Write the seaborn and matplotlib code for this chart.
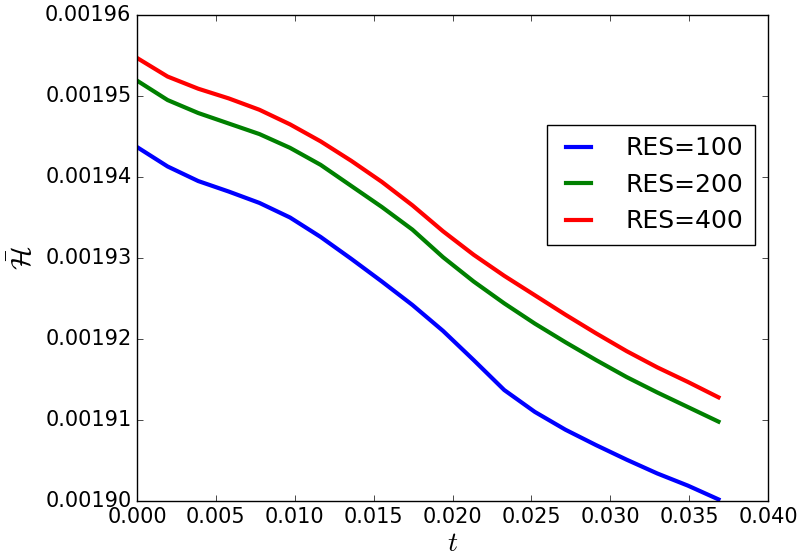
import matplotlib
matplotlib.use("Agg")
import matplotlib.pyplot as plt
import matplotlib.ticker as mticker
import numpy as np
import pandas as pd
import seaborn as sns

# ---- data ----
t = [0.0, 0.00194, 0.00388, 0.00582, 0.00776, 0.00970, 0.01164, 0.01358,
     0.01552, 0.01746, 0.01940, 0.02134, 0.02328, 0.02522, 0.02716, 0.02910,
     0.03104, 0.03298, 0.03492, 0.03686]
res100 = [0.0019437, 0.0019413, 0.0019395, 0.0019382, 0.0019368, 0.0019350,
          0.0019326, 0.0019299, 0.0019271, 0.0019242, 0.0019210, 0.0019174,
          0.0019137, 0.0019110, 0.0019088, 0.0019069, 0.0019051, 0.0019034,
          0.0019019, 0.0019002]
res200 = [0.0019519, 0.0019495, 0.0019479, 0.0019466, 0.0019453, 0.0019436,
          0.0019415, 0.0019389, 0.0019363, 0.0019335, 0.0019301, 0.0019271,
          0.0019244, 0.0019219, 0.0019196, 0.0019174, 0.0019153, 0.0019134,
          0.0019116, 0.0019098]
res400 = [0.0019547, 0.0019524, 0.0019509, 0.0019497, 0.0019483, 0.0019465,
          0.0019444, 0.0019420, 0.0019394, 0.0019365, 0.0019333, 0.0019304,
          0.0019278, 0.0019254, 0.0019230, 0.0019207, 0.0019185, 0.0019165,
          0.0019147, 0.0019128]
labels = ["RES=100", "RES=200", "RES=400"]
colors = ["blue", "green", "red"]

df = pd.concat([
    pd.DataFrame({"t": t, "H": vals, "series": lab})
    for vals, lab in zip([res100, res200, res400], labels)
])

plt.style.use("classic")
plt.rcParams["mathtext.fontset"] = "cm"
plt.rcParams["font.family"] = ["DejaVu Sans"]

fig = plt.figure(figsize=(8.01, 5.59), dpi=100, facecolor="white")
ax = fig.add_axes([137 / 801, 1 - 501 / 559, (768 - 137) / 801, (501 - 15) / 559])
ax.set_facecolor("white")

sns.lineplot(data=df, x="t", y="H", hue="series", palette=colors,
             linewidth=3, ax=ax, legend=True)

ax.set_xlim(0.0, 0.040)
ax.set_ylim(0.00190, 0.00196)
ax.set_xticks(np.arange(0, 0.0401, 0.005))
ax.set_yticks(np.arange(0.00190, 0.0019601, 0.00001))
ax.xaxis.set_major_formatter(mticker.FormatStrFormatter("%.3f"))
ax.yaxis.set_major_formatter(mticker.FormatStrFormatter("%.5f"))
ax.tick_params(labelsize=15, direction="in", top=True, right=True)
ax.set_xlabel(r"$t$", fontsize=20, labelpad=2)
ax.set_ylabel(r"$\bar{\mathcal{H}}$", fontsize=20)

handles, labs = ax.get_legend_handles_labels()
leg = ax.legend(handles, labs, loc="upper right",
                bbox_to_anchor=((755 - 137) / 631, (501 - 125) / 486),
                borderaxespad=0, fontsize=18, handlelength=1.6,
                handletextpad=1.1, borderpad=0.45,
                fancybox=False, frameon=True)
leg.get_frame().set_edgecolor("black")
for ln in leg.get_lines():
    ln.set_linewidth(3)

fig.savefig("out.png", dpi=100, facecolor="white")
